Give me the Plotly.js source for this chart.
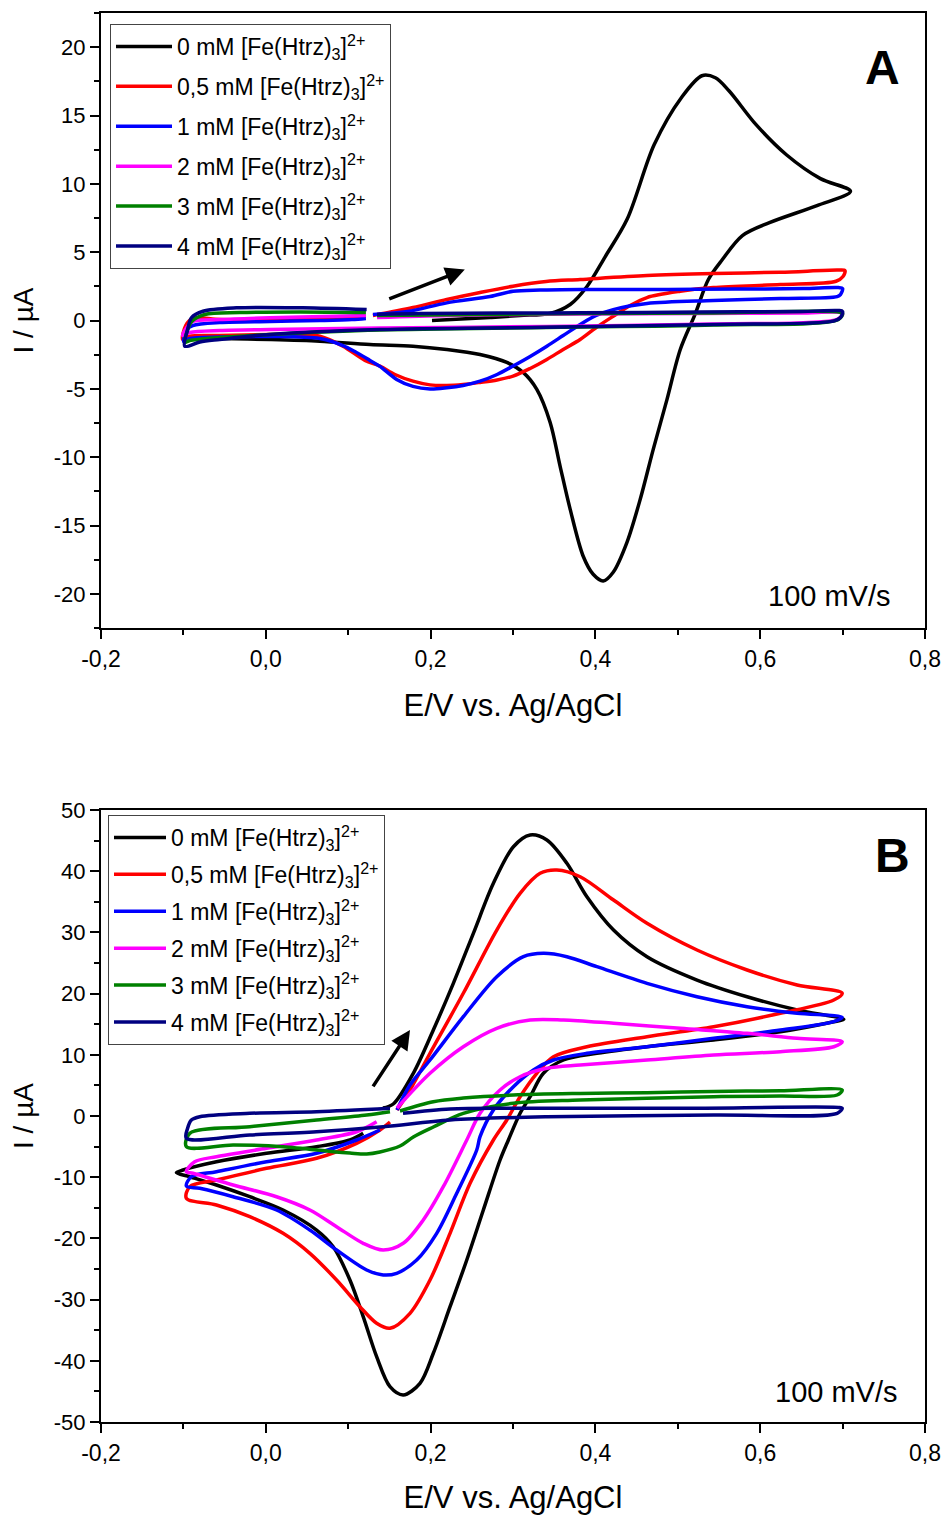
<!DOCTYPE html>
<html><head><meta charset="utf-8">
<script src="https://cdn.plot.ly/plotly-3.0.1.min.js"></script>
<style>html,body{margin:0;padding:0;background:#fff}</style>
</head><body>
<div id="plot" style="width:945px;height:1515px"></div>
<script>
// ---------- tick labels ----------
const E_tickvals = [-0.2, 0, 0.2, 0.4, 0.6, 0.8];
const E_ticktext = ['-0,2', '0,0', '0,2', '0,4', '0,6', '0,8'];
const IA_tickvals = [-20, -15, -10, -5, 0, 5, 10, 15, 20];
const IA_ticktext = ['-20', '-15', '-10', '-5', '0', '5', '10', '15', '20'];
const IB_tickvals = [-50, -40, -30, -20, -10, 0, 10, 20, 30, 40, 50];
const IB_ticktext = ['-50', '-40', '-30', '-20', '-10', '0', '10', '20', '30', '40', '50'];

// ---------- series names / colours ----------
const concentrations = ['0', '0,5', '1', '2', '3', '4'];
const colors = ['#000000', '#ff0000', '#0000ff', '#ff00ff', '#008000', '#000080'];

// ---------- Panel A data (E / V, I / µA) ----------
const A_E_0 = [0.2017,0.2722,0.3086,0.3446,0.3694,0.3898,0.412,0.4386,0.4714,0.5043,0.5293,0.5456,0.5621,0.595,0.6318,0.6731,0.7096,
  0.6689,0.6112,0.5784,0.5541,0.5371,0.5213,0.503,0.4869,0.4702,0.4544,0.4383,0.4216,0.4095,0.3973,0.3852,0.3694,0.3572,0.3451,0.3289,0.3123,0.2925,0.26,0.2196,0.1786,0.1264,0.0656,0.0049,-0.0559,-0.0923,-0.1021];
const A_I_0 = [0.00,0.22,0.37,0.51,1.17,2.49,4.68,7.42,12.87,16.30,17.91,17.76,16.81,14.33,12.13,10.38,9.45,
  8.41,7.16,6.21,4.46,3.00,0.51,-2.12,-5.77,-9.43,-13.08,-16.23,-18.42,-19.06,-18.57,-17.25,-13.82,-10.67,-7.46,-5.04,-3.80,-3.07,-2.49,-2.12,-1.88,-1.75,-1.51,-1.39,-1.32,-1.24,-1.17];

const A_E_05 = [0.130,0.1786,0.2196,0.260,0.300,0.3402,0.3815,0.4626,0.5431,0.6245,0.6944,0.7029,
  0.7005,0.692,0.6245,0.5431,0.503,0.4626,0.4423,0.4216,0.401,0.3815,0.3609,0.3411,0.3208,0.3001,0.2807,0.26,0.2394,0.2196,0.1993,0.1786,0.1567,0.1385,0.1203,0.0936,0.0656,0.0352,0.0049,-0.0559,-0.0923,-0.1009,
  -0.0972,-0.0887,-0.0559,0.0049,0.0656,0.1045,0.1215];
const A_I_05 = [0.37,0.95,1.54,2.05,2.51,2.85,3.00,3.29,3.44,3.53,3.69,3.65,
  3.22,2.87,2.63,2.41,2.14,1.68,1.10,0.31,-0.51,-1.39,-2.12,-2.85,-3.51,-4.07,-4.35,-4.53,-4.68,-4.75,-4.71,-4.44,-3.95,-3.34,-2.92,-1.88,-1.15,-1.02,-1.02,-1.10,-1.15,-1.39,
  -0.37,0.15,0.07,0.07,0.18,0.22,0.29];

const A_E_1 = [0.130,0.1722,0.2196,0.2722,0.3001,0.3329,0.3815,0.4885,0.5699,0.6525,0.695,0.700,
  0.6974,0.6934,0.6245,0.5431,0.4626,0.4216,0.401,0.3815,0.3609,0.3411,0.3208,0.3001,0.2807,0.26,0.2394,0.2196,0.1993,0.1786,0.1588,0.1385,0.1264,0.1081,0.0936,0.0656,0.0049,-0.0559,-0.0923,-0.0996,
  -0.096,-0.0887,-0.0559,0.0049,0.0656,0.1045,0.1215];
const A_I_1 = [0.44,0.66,1.29,1.75,2.14,2.23,2.27,2.27,2.30,2.34,2.41,2.34,
  1.90,1.75,1.61,1.46,1.24,0.80,0.37,-0.29,-1.10,-1.88,-2.63,-3.33,-3.95,-4.44,-4.75,-4.92,-5.01,-4.82,-4.31,-3.36,-2.92,-2.27,-1.83,-1.32,-1.17,-1.21,-1.32,-1.54,
  -0.66,-0.37,-0.15,-0.07,0.00,0.07,0.15];

const A_E_2 = [0.135,0.2236,0.3815,0.527,0.649,0.6974,0.700,
  0.6926,0.5431,0.3411,0.1385,0.0049,-0.0559,-0.0923,-0.1009,
  -0.096,-0.0887,-0.0559,0.0049,0.0859,0.1215];
const A_I_2 = [0.22,0.37,0.48,0.51,0.55,0.58,0.44,
  0.07,-0.26,-0.44,-0.55,-0.66,-0.73,-0.88,-1.10,
  -0.51,-0.07,0.07,0.20,0.31,0.37];

const A_E_3 = [0.135,0.3815,0.527,0.695,0.700,
  0.695,0.5431,0.3411,0.1385,0.0049,-0.0559,-0.0923,-0.0984,
  -0.0948,-0.090,-0.0741,-0.0316,0.0413,0.1215];
const A_I_3 = [0.37,0.51,0.55,0.62,0.51,
  0.07,-0.33,-0.51,-0.69,-1.02,-1.24,-1.46,-1.61,
  -0.66,-0.07,0.44,0.58,0.62,0.58];

const A_E_4 = [0.135,0.187,0.284,0.3815,0.527,0.649,0.695,0.700,
  0.6974,0.689,0.5431,0.3411,0.1385,0.0049,-0.0559,-0.080,-0.0984,
  -0.0948,-0.0903,-0.0762,-0.0356,0.045,0.1224];
const A_I_4 = [0.44,0.51,0.55,0.56,0.62,0.66,0.73,0.66,
  0.22,-0.05,-0.29,-0.49,-0.66,-1.02,-1.39,-1.57,-1.88,
  -0.66,0.20,0.68,0.93,0.93,0.80];

// ---------- Panel B data (E / V, I / µA) ----------
const B_E_0 = [0.1422,0.1547,0.179,0.2033,0.2276,0.2519,0.2762,0.3005,0.3208,0.3411,0.3654,0.3897,0.422,0.4626,0.5233,0.5841,0.6448,0.7015,
  0.6893,0.6245,0.5435,0.4626,0.4018,0.3612,0.3369,0.3208,0.3086,0.2944,0.2843,0.264,0.2439,0.2236,0.2033,0.1871,0.1668,0.1507,0.1345,0.1182,0.1021,0.0818,0.0616,0.021,-0.0194,-0.0599,-0.0923,-0.1085,
  -0.1005,-0.0599,0.0009,0.0616,0.1021,0.1182];
const B_I_0 = [1.31,1.96,6.98,14.05,21.68,29.85,38.02,44.0,45.92,45.10,41.29,35.83,30.39,26.03,22.22,19.49,17.32,15.80,
  15.41,13.77,12.42,11.32,10.24,9.15,6.98,3.15,0.44,-3.92,-7.19,-15.36,-23.53,-31.16,-38.77,-43.68,-45.59,-44.23,-39.33,-32.79,-26.80,-21.36,-18.63,-15.36,-13.19,-11.27,-9.92,-9.26,
  -8.82,-7.47,-6.09,-5.02,-3.92,-2.83];

const B_E_05 = [0.1592,0.175,0.1993,0.2397,0.2803,0.3086,0.3329,0.3532,0.3815,0.422,0.4626,0.5233,0.5841,0.6448,0.6995,
  0.6893,0.6245,0.5435,0.4626,0.3897,0.3491,0.3289,0.3086,0.2925,0.2762,0.2479,0.2236,0.1993,0.175,0.1507,0.1345,0.1142,0.0859,0.0535,0.021,-0.0194,-0.0599,-0.0964,
  -0.0923,-0.0599,0.0009,0.0616,0.1102,0.1385,0.1507];
const B_I_05 = [0.98,4.25,10.25,20.05,30.39,36.39,39.66,40.20,39.10,35.29,31.49,27.12,23.86,21.41,20.05,
  18.95,16.78,14.59,12.96,11.32,9.69,6.98,3.15,-0.65,-3.92,-11.0,-19.17,-26.80,-32.24,-34.69,-33.87,-31.16,-26.80,-22.44,-19.17,-16.45,-14.54,-13.45,
  -11.55,-10.46,-8.55,-6.91,-4.46,-2.29,-0.98];

const B_E_1 = [0.1592,0.175,0.1993,0.2397,0.2803,0.3126,0.3369,0.3654,0.4018,0.4626,0.5233,0.5841,0.6448,0.6995,
  0.6893,0.6245,0.5435,0.4626,0.3897,0.3491,0.3248,0.3005,0.2762,0.260,0.256,0.2317,0.2074,0.1831,0.1588,0.1425,0.1224,0.0859,0.0535,0.013,-0.0397,-0.0802,-0.0964,
  -0.0903,-0.0599,0.0009,0.0616,0.1102,0.1385];
const B_I_1 = [0.98,5.07,9.15,16.23,22.76,26.03,26.58,26.03,24.40,21.68,19.49,17.86,16.78,16.13,
  15.41,14.05,12.70,11.32,10.24,9.15,7.52,4.79,0.98,-3.38,-5.56,-12.63,-19.17,-23.53,-25.70,-25.98,-25.16,-21.90,-18.63,-15.36,-13.19,-11.81,-11.44,
  -9.92,-9.10,-7.47,-6.09,-3.92,-2.29];

const B_E_2 = [0.1592,0.1993,0.2397,0.2803,0.3208,0.3612,0.422,0.503,0.5841,0.6448,0.6995,
  0.6893,0.6245,0.5435,0.4626,0.3815,0.3411,0.3086,0.2843,0.260,0.2439,0.2154,0.1911,0.1668,0.1425,0.1182,0.0859,0.0535,0.013,-0.0397,-0.0883,-0.0964,
  -0.0863,-0.0599,0.0009,0.0616,0.1102,0.1345];
const B_I_2 = [1.31,6.98,11.32,14.33,15.69,15.69,15.15,14.33,13.51,12.70,12.14,
  11.32,10.51,9.97,9.15,8.33,7.79,6.42,4.25,0.44,-3.92,-11.55,-16.99,-20.80,-21.90,-20.80,-18.09,-15.36,-13.19,-11.27,-9.36,-9.10,
  -7.47,-6.65,-5.28,-3.92,-2.57,-0.93];

const B_E_3 = [0.1628,0.2033,0.2397,0.3005,0.3815,0.4626,0.5435,0.6245,0.6995,
  0.6934,0.6245,0.5435,0.3815,0.3005,0.2397,0.2033,0.179,0.1628,0.1385,0.1224,0.1021,0.0818,0.021,-0.0397,-0.0964,
  -0.0923,-0.0194,0.0616,0.1224,0.1507];
const B_I_3 = [0.82,2.34,2.94,3.43,3.68,3.81,4.00,4.13,4.25,
  3.43,3.27,3.15,2.61,2.08,0.44,-1.80,-3.43,-4.90,-5.88,-6.21,-6.05,-5.83,-5.02,-4.74,-5.02,
  -2.83,-1.75,-0.65,0.16,0.70];

const B_E_4 = [0.1665,0.2236,0.3005,0.503,0.695,0.6995,
  0.6934,0.5435,0.3411,0.2236,0.1425,0.0616,-0.0194,-0.0964,
  -0.0948,-0.0903,-0.0802,-0.0194,0.0616,0.1507];
const B_I_4 = [0.44,1.14,1.26,1.26,1.39,1.26,
  0.44,0.16,-0.11,-0.65,-1.75,-2.57,-3.10,-3.64,
  -1.96,-0.65,-0.11,0.44,0.70,1.26];

// arrows (scan direction), data coordinates: [tailE, tailI, headE, headI]
const arrowA = [0.148, 1.54, 0.2415, 3.73];
const arrowB = [0.129, 4.6, 0.175, 14.05];

// ---------- build traces ----------
const A_E = [A_E_0, A_E_05, A_E_1, A_E_2, A_E_3, A_E_4];
const A_I = [A_I_0, A_I_05, A_I_1, A_I_2, A_I_3, A_I_4];
const B_E = [B_E_0, B_E_05, B_E_1, B_E_2, B_E_3, B_E_4];
const B_I = [B_I_0, B_I_05, B_I_1, B_I_2, B_I_3, B_I_4];

const label = c => c + ' mM [Fe(Htrz)<sub>3</sub>]<sup>2+</sup>';
const traces = [];
for (let k = 0; k < 6; k++) {
  traces.push({x: A_E[k], y: A_I[k], xaxis: 'x', yaxis: 'y', type: 'scatter', mode: 'lines',
    name: label(concentrations[k]), legend: 'legend', legendgroup: 'a' + k,
    line: {color: colors[k], width: 3.5, shape: 'spline', smoothing: 0.9}});
}
for (let k = 0; k < 6; k++) {
  traces.push({x: B_E[k], y: B_I[k], xaxis: 'x2', yaxis: 'y2', type: 'scatter', mode: 'lines',
    name: label(concentrations[k]), legend: 'legend2', legendgroup: 'b' + k,
    line: {color: colors[k], width: 3.5, shape: 'spline', smoothing: 0.9}});
}

const W = 945, H = 1515;
const px2x = p => p / W;
const py2y = p => 1 - p / H;

const tickFont = {family: 'Liberation Sans, Arial, sans-serif', size: 22, color: '#000'};
const xTickFont = {family: 'Liberation Sans Narrow, Arial Narrow, Liberation Sans, sans-serif', size: 23, color: '#000'};
const titleFont = {family: 'Liberation Sans, Arial, sans-serif', size: 28, color: '#000'};
const xTitleFont = {family: 'Liberation Sans Narrow, Arial Narrow, Liberation Sans, sans-serif', size: 31, color: '#000'};

function xAxis() {
  return {domain: [px2x(101), px2x(925)], range: [-0.2, 0.8], tickmode: 'array', tickvals: E_tickvals, ticktext: E_ticktext,
    ticks: 'outside', ticklen: 9, tickwidth: 2, tickcolor: '#000', showline: true, linewidth: 2, linecolor: '#000', mirror: true,
    showgrid: false, zeroline: false, tickfont: xTickFont,
    minor: {tickmode: 'linear', tick0: 0, dtick: 0.1, ticks: 'outside', ticklen: 5, tickwidth: 2, tickcolor: '#000', showgrid: false},
    title: {text: 'E/V vs. Ag/AgCl', font: xTitleFont, standoff: 24}};
}
function yAxis(dom, rng, tv, tt, minorStep, anchor) {
  return {domain: dom, range: rng, tickmode: 'array', tickvals: tv, ticktext: tt, anchor: anchor,
    ticks: 'outside', ticklen: 9, tickwidth: 2, tickcolor: '#000', showline: true, linewidth: 2, linecolor: '#000', mirror: true,
    showgrid: false, zeroline: false, tickfont: tickFont,
    minor: {tickmode: 'linear', tick0: 0, dtick: minorStep, ticks: 'outside', ticklen: 5, tickwidth: 2, tickcolor: '#000', showgrid: false},
    title: {text: 'I / µA', font: titleFont, standoff: 12}};
}

const xa = xAxis(); xa.anchor = 'y';
const xb = xAxis(); xb.anchor = 'y2';

const legendFont = {family: 'Liberation Sans, Arial, sans-serif', size: 23, color: '#000'};

const layout = {
  width: W, height: H, margin: {l: 0, r: 0, t: 0, b: 0}, paper_bgcolor: '#fff', plot_bgcolor: '#fff',
  showlegend: true,
  xaxis: xa,
  yaxis: yAxis([py2y(628), py2y(13)], [-22.5, 22.5], IA_tickvals, IA_ticktext, 2.5, 'x'),
  xaxis2: xb,
  yaxis2: yAxis([py2y(1422), py2y(810)], [-50, 50], IB_tickvals, IB_ticktext, 5, 'x2'),
  legend: {x: px2x(110), y: py2y(24), xanchor: 'left', yanchor: 'top', bgcolor: '#fff', bordercolor: '#444', borderwidth: 1,
    font: legendFont, tracegroupgap: 7, itemwidth: 56},
  legend2: {x: px2x(108), y: py2y(815), xanchor: 'left', yanchor: 'top', bgcolor: '#fff', bordercolor: '#444', borderwidth: 1,
    font: legendFont, tracegroupgap: 4, itemwidth: 52},
  annotations: [
    {text: '<b>A</b>', xref: 'x domain', yref: 'y domain', x: 0.948, y: 0.911, xanchor: 'center', yanchor: 'middle', showarrow: false,
      font: {family: 'Liberation Sans, Arial, sans-serif', size: 48, color: '#000'}},
    {text: '<b>B</b>', xref: 'x2 domain', yref: 'y2 domain', x: 0.961, y: 0.926, xanchor: 'center', yanchor: 'middle', showarrow: false,
      font: {family: 'Liberation Sans, Arial, sans-serif', size: 48, color: '#000'}},
    {text: '100 mV/s', xref: 'x domain', yref: 'y domain', x: 0.961, y: 0.052, xanchor: 'right', yanchor: 'middle', showarrow: false,
      font: {family: 'Liberation Sans, Arial, sans-serif', size: 29, color: '#000'}},
    {text: '100 mV/s', xref: 'x2 domain', yref: 'y2 domain', x: 0.970, y: 0.049, xanchor: 'right', yanchor: 'middle', showarrow: false,
      font: {family: 'Liberation Sans, Arial, sans-serif', size: 29, color: '#000'}},
    {text: '', xref: 'x', yref: 'y', axref: 'x', ayref: 'y', x: arrowA[2], y: arrowA[3], ax: arrowA[0], ay: arrowA[1],
      showarrow: true, arrowhead: 2, arrowsize: 1.1, arrowwidth: 3.5, arrowcolor: '#000'},
    {text: '', xref: 'x2', yref: 'y2', axref: 'x2', ayref: 'y2', x: arrowB[2], y: arrowB[3], ax: arrowB[0], ay: arrowB[1],
      showarrow: true, arrowhead: 2, arrowsize: 1.1, arrowwidth: 3.5, arrowcolor: '#000'}
  ]
};

Plotly.newPlot('plot', traces, layout, {staticPlot: true, displayModeBar: false});
</script>
</body></html>
